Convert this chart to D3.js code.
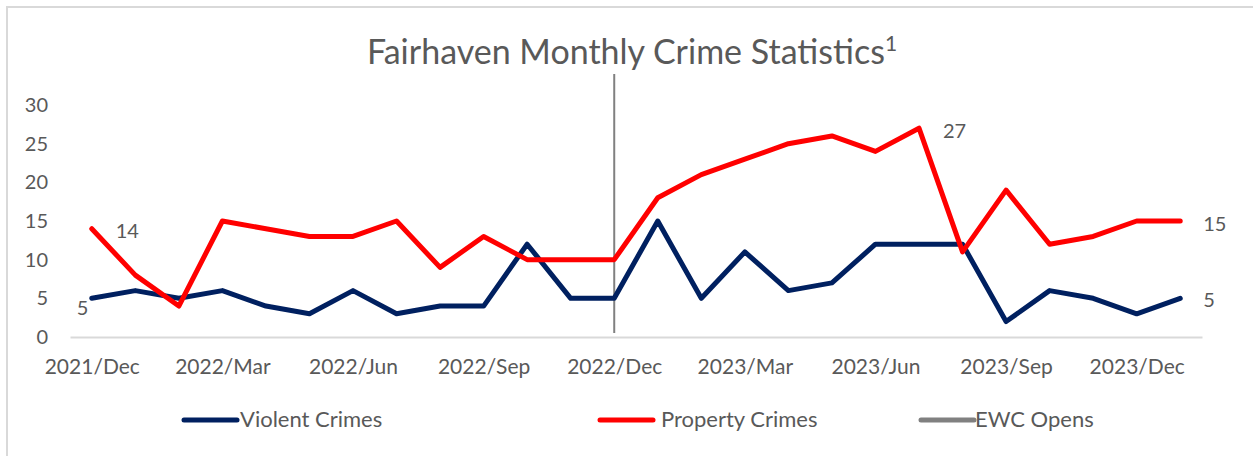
<!DOCTYPE html>
<html>
<head>
<meta charset="utf-8">
<script src="https://cdn.jsdelivr.net/npm/d3@7"></script>
<style>
  body { margin: 0; background: #fff; }
  text { font-family: Lato, "Open Sans", sans-serif; fill: #595959; }
</style>
</head>
<body>
<div id="chart"></div>
<script>
const months = [
  '2021/Dec', '2022/Jan', '2022/Feb', '2022/Mar', '2022/Apr', '2022/May', '2022/Jun',
  '2022/Jul', '2022/Aug', '2022/Sep', '2022/Oct', '2022/Nov', '2022/Dec',
  '2023/Jan', '2023/Feb', '2023/Mar', '2023/Apr', '2023/May', '2023/Jun',
  '2023/Jul', '2023/Aug', '2023/Sep', '2023/Oct', '2023/Nov', '2023/Dec', '2024/Jan'
];
const violent = [5, 6, 5, 6, 4, 3, 6, 3, 4, 4, 12, 5, 5, 15, 5, 11, 6, 7, 12, 12, 12, 2, 6, 5, 3, 5];
const property = [14, 8, 4, 15, 14, 13, 13, 15, 9, 13, 10, 10, 10, 18, 21, 23, 25, 26, 24, 27, 11, 19, 12, 13, 15, 15];
const tickMonths = ['2021/Dec', '2022/Mar', '2022/Jun', '2022/Sep', '2022/Dec', '2023/Mar', '2023/Jun', '2023/Sep', '2023/Dec'];
const yTicks = [0, 5, 10, 15, 20, 25, 30];
const ewcMonth = '2022/Dec';

const width = 1253, height = 456;

const svg = d3.select('#chart').append('svg')
  .attr('width', width)
  .attr('height', height);

// chart frame
svg.append('rect')
  .attr('x', 7).attr('y', 7)
  .attr('width', width + 10).attr('height', height + 10)
  .attr('fill', 'none')
  .attr('stroke', '#d9d9d9')
  .attr('stroke-width', 2);

svg.append('text')
  .attr('x', 632).attr('y', 64)
  .attr('text-anchor', 'middle')
  .style('font-size', '34px')
  .text('Fairhaven Monthly Crime Statistics')
  .append('tspan')
  .attr('dy', -13)
  .style('font-size', '21px')
  .text('1');

const x = d3.scalePoint()
  .domain(months)
  .range([70, 1202])
  .padding(0.5);

const y = d3.scaleLinear()
  .domain([0, 30])
  .range([337, 105]);

// y axis labels
const yAxis = svg.append('g')
  .attr('transform', 'translate(48,0)')
  .call(d3.axisLeft(y).tickValues(yTicks).tickSize(0).tickPadding(0));
yAxis.select('.domain').remove();
yAxis.selectAll('text').style('font-size', '20px').attr('fill', '#595959');

// x axis
const xAxis = svg.append('g')
  .attr('transform', `translate(0,${y(0)})`)
  .call(d3.axisBottom(x).tickValues(tickMonths).tickSize(0).tickPadding(22));
xAxis.select('.domain').attr('stroke', '#d9d9d9').attr('stroke-width', 2);
xAxis.selectAll('text').style('font-size', '21px').attr('fill', '#595959');

// EWC marker
svg.append('line')
  .attr('x1', x(ewcMonth)).attr('x2', x(ewcMonth))
  .attr('y1', 74).attr('y2', 333)
  .attr('stroke', '#808080')
  .attr('stroke-width', 2);

const line = d3.line()
  .x((d, i) => x(months[i]))
  .y(d => y(d));

svg.append('path')
  .datum(violent)
  .attr('d', line)
  .attr('fill', 'none')
  .attr('stroke', '#002060')
  .attr('stroke-width', 5)
  .attr('stroke-linejoin', 'round')
  .attr('stroke-linecap', 'round');

svg.append('path')
  .datum(property)
  .attr('d', line)
  .attr('fill', 'none')
  .attr('stroke', '#ff0000')
  .attr('stroke-width', 5)
  .attr('stroke-linejoin', 'round')
  .attr('stroke-linecap', 'round');

// data labels
const labels = [
  { series: property, i: 0, dx: 24, dy: 9 },
  { series: violent, i: 0, dx: -15, dy: 17 },
  { series: property, i: 19, dx: 24, dy: 10 },
  { series: property, i: 25, dx: 23, dy: 10 },
  { series: violent, i: 25, dx: 23, dy: 9 }
];
svg.selectAll('.dlabel')
  .data(labels)
  .enter().append('text')
  .attr('class', 'dlabel')
  .attr('x', d => x(months[d.i]) + d.dx)
  .attr('y', d => y(d.series[d.i]) + d.dy)
  .style('font-size', '20px')
  .text(d => d.series[d.i]);

// legend
const legend = [
  { name: 'Violent Crimes', color: '#002060', x: 182, tx: 58 },
  { name: 'Property Crimes', color: '#ff0000', x: 598, tx: 63 },
  { name: 'EWC Opens', color: '#808080', x: 919, tx: 56 }
];
const lg = svg.selectAll('.legend')
  .data(legend)
  .enter().append('g')
  .attr('transform', d => `translate(${d.x},420)`);
lg.append('line')
  .attr('x1', 2).attr('x2', 55)
  .attr('stroke', d => d.color)
  .attr('stroke-width', 5)
  .attr('stroke-linecap', 'round');
lg.append('text')
  .attr('x', d => d.tx).attr('y', 7)
  .style('font-size', '22px')
  .text(d => d.name);
</script>
</body>
</html>
